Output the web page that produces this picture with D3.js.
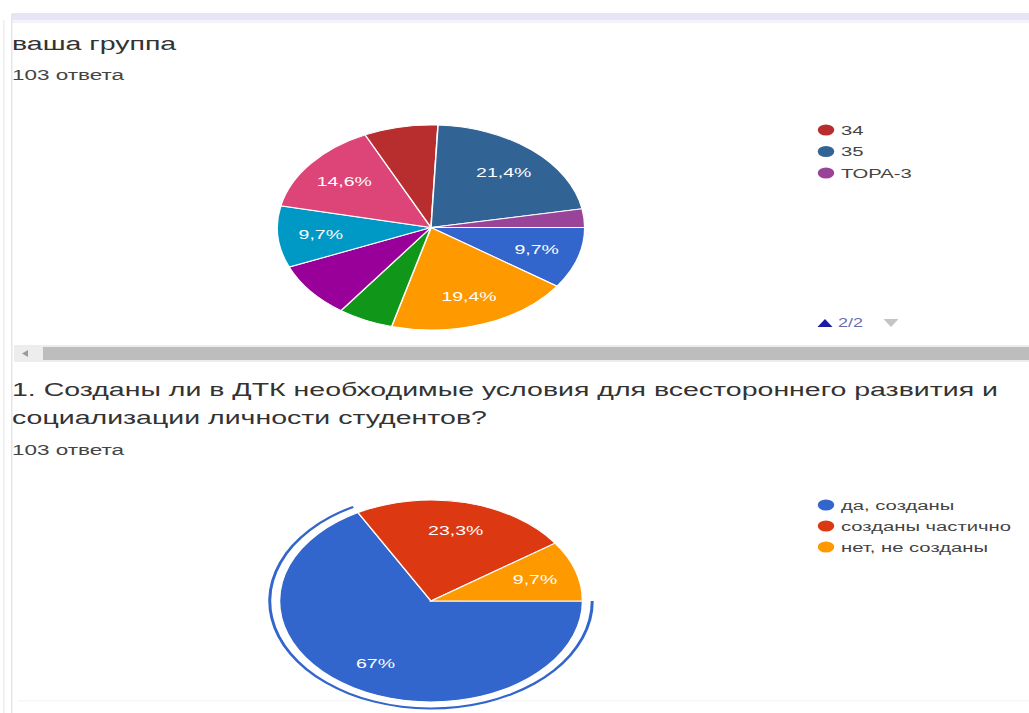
<!DOCTYPE html>
<html>
<head>
<meta charset="utf-8">
<script src="https://cdn.jsdelivr.net/npm/d3@7"></script>
<style>
  body { margin: 0; background: #fff; }
  svg { display: block; }
  text { font-family: "Liberation Sans", Arial, sans-serif; }
</style>
</head>
<body>
<svg id="chart" width="1029" height="713"></svg>
<script>
// ---------------- data ----------------
const groupTitle = "ваша группа";
const responsesLabel = "103 ответа";
// legend order (Google Forms, slices start at 3 o'clock, clockwise)
const groupCategories = ["группа 1", "группа 2", "группа 3", "группа 4", "группа 5", "группа 6", "34", "35", "ТОРА-3"];
const groupValues = [10, 20, 6, 9, 10, 15, 8, 22, 3];
const groupColors = ["#3366cc", "#ff9900", "#109618", "#990099", "#0099c6", "#dd4477", "#b82e2e", "#316395", "#994499"];
const groupLegendPageCount = 3;     // entries shown on legend page 2/2
const groupLegendPager = "2/2";

const q1Title = ["1. Созданы ли в ДТК необходимые условия для всестороннего развития и",
                 "социализации личности студентов?"];
const q1Categories = ["да, созданы", "созданы частично", "нет, не созданы"];
const q1Values = [69, 24, 10];
const q1Colors = ["#3366cc", "#dc3912", "#ff9900"];
const q1Highlighted = 0;

// ---------------- layout ----------------
const SX = 1.5;                 // the screenshot is stretched horizontally
const svg = d3.select("#chart");
const ox = px => px / SX;       // convert screen x to group x

// page decorations (unscaled)
svg.append("rect").attr("x", 12).attr("y", 13).attr("width", 1017).attr("height", 7).attr("fill", "#e7e5f5");
svg.append("rect").attr("x", 12).attr("y", 20).attr("width", 1017).attr("height", 3).attr("fill", "#f4f3fb");
svg.append("rect").attr("x", 3).attr("y", 20).attr("width", 1.5).attr("height", 693).attr("fill", "#eeeeee");
svg.append("rect").attr("x", 11).attr("y", 14).attr("width", 1.5).attr("height", 699).attr("fill", "#e6e6e6");
svg.append("rect").attr("x", 18).attr("y", 700).attr("width", 1011).attr("height", 1.5).attr("fill", "#f6f6f6");
// horizontal scrollbar
svg.append("rect").attr("x", 14).attr("y", 345).attr("width", 1015).attr("height", 17).attr("fill", "#ededed");
svg.append("rect").attr("x", 43).attr("y", 347).attr("width", 986).attr("height", 13).attr("fill", "#bdbdbd");
svg.append("path").attr("d", "M22,353.5 L28,350 L28,357 Z").attr("fill", "#9a9a9a");

const g = svg.append("g").attr("transform", `scale(${SX},1)`);

function pct(v, total) {
  const p = Math.round(v / total * 1000) / 10;
  return String(p).replace(".", ",") + "%";
}

function drawPie(cfg) {
  const total = d3.sum(cfg.values);
  const pie = d3.pie().sort(null).value(d => d)
    .startAngle(Math.PI / 2).endAngle(Math.PI / 2 + 2 * Math.PI);
  const arcs = pie(cfg.values);
  const arc = d3.arc().innerRadius(0).outerRadius(cfg.r);
  const labelArc = d3.arc().innerRadius(cfg.r * 0.72).outerRadius(cfg.r * 0.72);
  const pg = g.append("g").attr("transform", `translate(${cfg.cx},${cfg.cy})`);

  pg.selectAll("path.slice").data(arcs).join("path")
    .attr("class", "slice")
    .attr("d", arc)
    .attr("fill", (d, i) => cfg.colors[i])
    .attr("stroke", "#fff").attr("stroke-width", 1);

  if (cfg.highlight != null) {
    const h = arcs[cfg.highlight];
    pg.append("path")
      .attr("d", d3.arc().innerRadius(cfg.r + 5.5).outerRadius(cfg.r + 7.5)
        .startAngle(h.startAngle).endAngle(h.endAngle)())
      .attr("fill", cfg.colors[cfg.highlight]);
  }

  pg.selectAll("text.lbl").data(arcs.filter(d => d.value / total >= 0.09)).join("text")
    .attr("class", "lbl")
    .attr("transform", d => `translate(${labelArc.centroid(d)})`)
    .attr("text-anchor", "middle").attr("dy", "0.36em")
    .attr("fill", "#fff").attr("font-size", 13)
    .text(d => pct(d.value, total));
}

function drawLegend(cfg) {
  const lg = g.append("g");
  cfg.items.forEach((name, i) => {
    const y = cfg.y0 + i * cfg.step;
    lg.append("circle").attr("cx", ox(cfg.x)).attr("cy", y).attr("r", 5.5).attr("fill", cfg.colors[i]);
    lg.append("text").attr("x", ox(cfg.x + 15)).attr("y", y).attr("dy", "0.35em")
      .attr("font-size", 13.5).attr("fill", "#444").text(name);
  });
}

// ----- question 1: group -----
g.append("text").attr("x", ox(12)).attr("y", 50).attr("font-size", 19).attr("fill", "#333").text(groupTitle);
g.append("text").attr("x", ox(12)).attr("y", 80).attr("font-size", 15).attr("fill", "#444").text(responsesLabel);

drawPie({ cx: ox(431), cy: 227.5, r: 102.5, values: groupValues, colors: groupColors });

drawLegend({
  x: 826, y0: 130, step: 21.5,
  items: groupCategories.slice(-groupLegendPageCount),
  colors: groupColors.slice(-groupLegendPageCount)
});
// pager
g.append("path").attr("transform", `translate(${ox(825)},323)`)
  .attr("d", "M-5,4 L0,-4 L5,4 Z").attr("fill", "#1a1aa6");
g.append("text").attr("x", ox(838)).attr("y", 327.5).attr("font-size", 12).attr("fill", "#6a6ab0").text(groupLegendPager);
g.append("path").attr("transform", `translate(${ox(891)},323)`)
  .attr("d", "M-5,-4 L5,-4 L0,4 Z").attr("fill", "#c4c4c4");

// ----- question 2 -----
q1Title.forEach((line, i) => {
  g.append("text").attr("x", ox(12)).attr("y", 396 + i * 28).attr("font-size", 19).attr("fill", "#333").text(line);
});
g.append("text").attr("x", ox(12)).attr("y", 455).attr("font-size", 15).attr("fill", "#444").text(responsesLabel);

drawPie({ cx: ox(431), cy: 601, r: 101, values: q1Values, colors: q1Colors, highlight: q1Highlighted });

drawLegend({ x: 826, y0: 505, step: 21, items: q1Categories, colors: q1Colors });
</script>
</body>
</html>
